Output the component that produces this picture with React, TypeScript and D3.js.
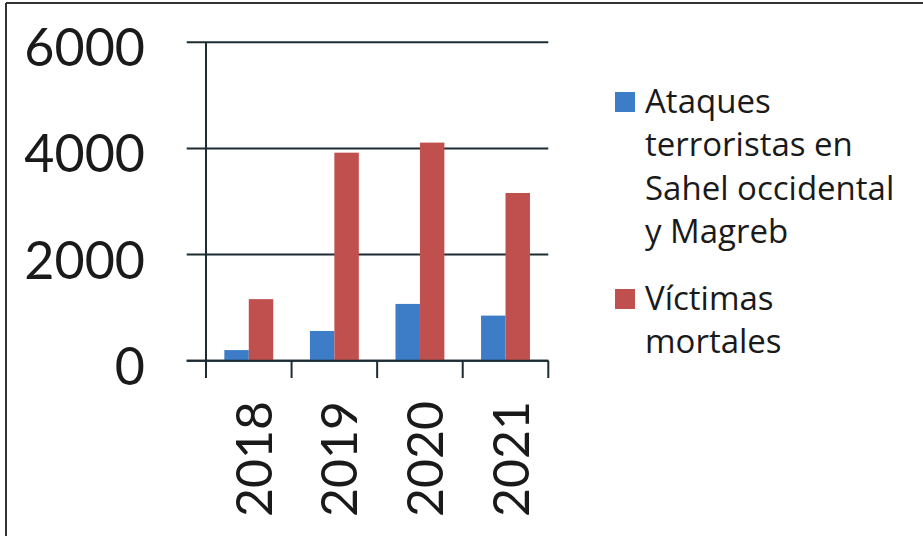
import React from "react";
import * as d3 from "d3";

// chart data
const years = ["2018", "2019", "2020", "2021"];
const ataques = [200, 560, 1070, 850];
const victimas = [1160, 3920, 4110, 3160];
const yTicks = [0, 2000, 4000, 6000];
const seriesNames = ["Ataques", "Victimas"];
const legendLabels = [
  ["Ataques", "terroristas en", "Sahel occidental", "y Magreb"],
  ["Víctimas", "mortales"],
];
const colors = ["#3d7cc6", "#c0504d"];

const W = 923;
const H = 536;
const font = "Lato, 'Open Sans', sans-serif";
const legendFont = "'Open Sans', sans-serif";
const ink = "#1d2b33";

const App = () => {
  const y = d3.scaleLinear().domain([0, 6000]).range([360.7, 42.3]);
  const x = d3.scaleBand().domain(years).range([206, 548.3]).padding(0);
  const inner = d3
    .scaleBand()
    .domain(seriesNames)
    .range([0, x.bandwidth()])
    .paddingInner(0)
    .paddingOuter(0.75);
  const values = [ataques, victimas];
  const base = y(0);

  return (
    <svg
      width={W}
      height={H}
      style={{ position: "absolute", left: 0, top: 0, background: "#fff" }}
    >
      {/* frame (only top and left visible) */}
      <line x1={6} x2={W} y1={3} y2={3} stroke="#333" strokeWidth={2} />
      <line x1={6} x2={6} y1={3} y2={H} stroke="#333" strokeWidth={2} />

      {/* gridlines */}
      {yTicks.map((t) => (
        <line
          key={"g" + t}
          x1={186.7}
          x2={x.range()[1]}
          y1={y(t)}
          y2={y(t)}
          stroke={ink}
          strokeWidth={2}
        />
      ))}

      {/* bars */}
      {years.map((yr, i) => (
        <g key={yr} transform={`translate(${x(yr)},0)`}>
          {seriesNames.map((s, j) => (
            <rect
              key={s}
              x={inner(s)}
              y={y(values[j][i])}
              width={inner.bandwidth()}
              height={base - y(values[j][i])}
              fill={colors[j]}
            />
          ))}
        </g>
      ))}

      {/* axes */}
      <line x1={206} x2={206} y1={y(6000)} y2={378} stroke={ink} strokeWidth={2} />
      <line x1={186.7} x2={x.range()[1]} y1={base} y2={base} stroke={ink} strokeWidth={2} />
      {[...years.map((yr) => x(yr) as number), x.range()[1]].map((px, i) => (
        <line key={"t" + i} x1={px} x2={px} y1={base} y2={378} stroke={ink} strokeWidth={2} />
      ))}

      {/* y tick labels */}
      {yTicks.map((t) => (
        <text
          key={"l" + t}
          x={145}
          y={y(t) + 24}
          textAnchor="end"
          fontFamily={font}
          fontSize={52}
          fill="#1a1a1a"
        >
          {t}
        </text>
      ))}

      {/* x labels rotated */}
      {years.map((yr) => (
        <text
          key={"x" + yr}
          transform={`translate(${(x(yr) as number) + x.bandwidth() / 2 + 23},401) rotate(-90)`}
          textAnchor="end"
          fontFamily={font}
          fontSize={50}
          fill="#1a1a1a"
        >
          {yr}
        </text>
      ))}

      {/* legend */}
      {legendLabels.map((lines, k) => {
        const top = k === 0 ? 113 : 310;
        return (
          <g key={"lg" + k}>
            <rect x={615} y={top - 21} width={20} height={20} fill={colors[k]} />
            {lines.map((ln, m) => (
              <text
                key={m}
                x={645}
                y={top + m * 43.4}
                fontFamily={legendFont}
                fontSize={33}
                fill="#1a1a1a"
              >
                {ln}
              </text>
            ))}
          </g>
        );
      })}
    </svg>
  );
};

export default App;
